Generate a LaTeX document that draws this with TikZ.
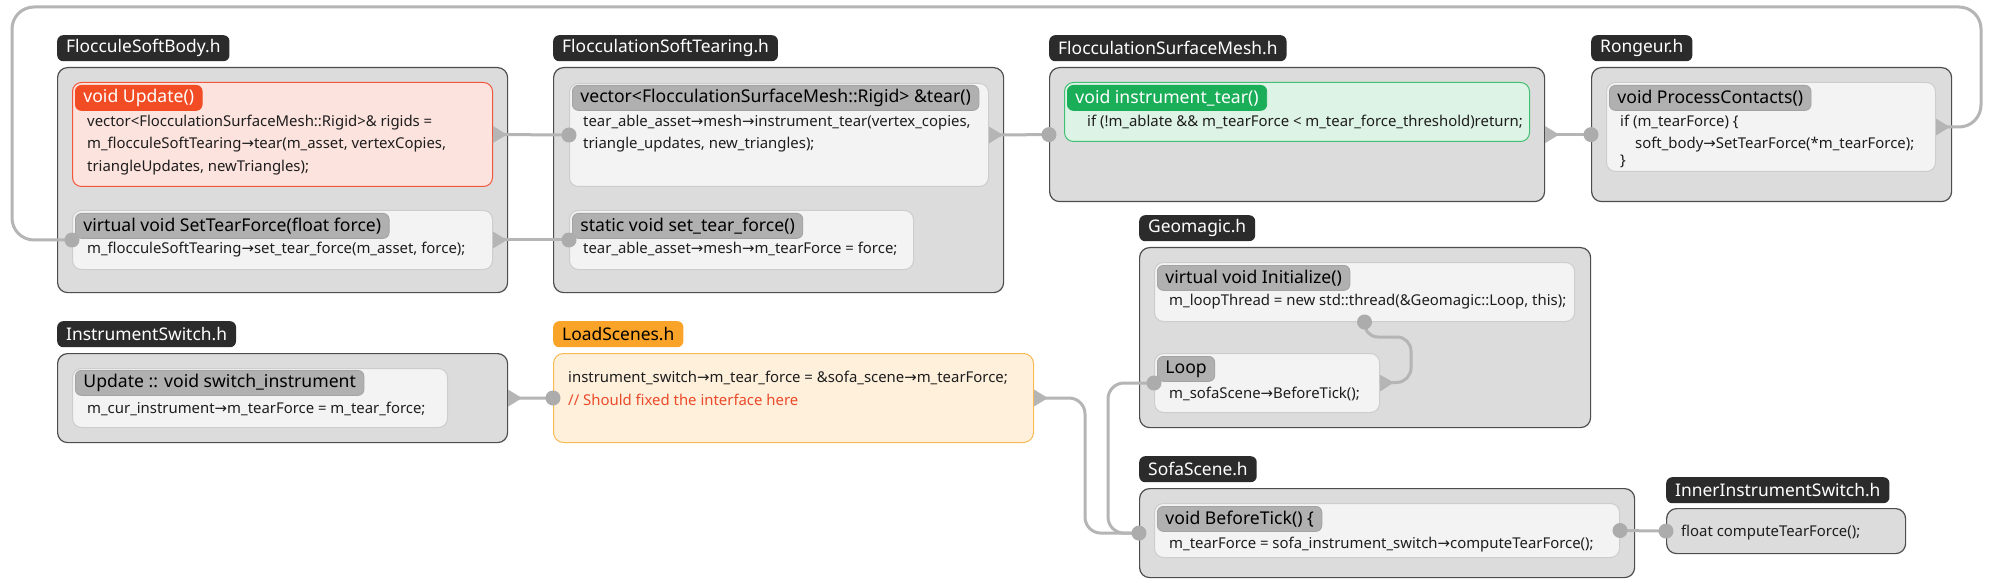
\documentclass[tikz,border=0pt]{standalone}
\usepackage{fontspec}
\setmainfont{Noto Sans}
\newfontfamily\arrowfam{DejaVu Sans}
\usetikzlibrary{arrows.meta}
\newcommand{\myarr}{{\arrowfam\char"2192}}
\definecolor{outerf}{HTML}{DCDCDC}
\definecolor{outerc}{HTML}{4D4D4D}
\definecolor{innerf}{HTML}{F3F3F3}
\definecolor{innerc}{HTML}{CDCDCD}
\definecolor{hdrf}{HTML}{B0B0B0}
\definecolor{hdrc}{HTML}{A3A3A3}
\definecolor{lblf}{HTML}{2B2B2B}
\definecolor{redf}{HTML}{FDE3DE}
\definecolor{redc}{HTML}{F1573A}
\definecolor{redh}{HTML}{F24C24}
\definecolor{grnf}{HTML}{DDF3E5}
\definecolor{grnc}{HTML}{40C074}
\definecolor{grnh}{HTML}{1AAE58}
\definecolor{orgh}{HTML}{F9A428}
\definecolor{orgf}{HTML}{FFF0DC}
\definecolor{orgc}{HTML}{F9B953}
\definecolor{cmt}{HTML}{EB4A2B}
\definecolor{linec}{HTML}{B5B5B5}
\definecolor{textc}{HTML}{1E1E1E}
\tikzset{
  outerbox/.style={draw=outerc, fill=outerf, line width=1.2pt, rounded corners=10pt, anchor=north west, inner sep=0pt},
  innerbox/.style={draw=innerc, fill=innerf, line width=1pt, rounded corners=9pt, anchor=north west, inner sep=0pt},
  hdr/.style={fill=hdrf, draw=hdrc, line width=0.8pt, rounded corners=6pt, anchor=north west, minimum height=25pt, inner xsep=8pt, inner ysep=0pt, font=\fontsize{17.6}{19}\selectfont, text=black},
  lbl/.style={fill=lblf, rounded corners=6pt, anchor=north west, minimum height=26pt, inner xsep=9pt, inner ysep=0pt, font=\fontsize{17.4}{19}\selectfont, text=white},
  code/.style={anchor=base west, inner sep=0pt, font=\fontsize{14.9}{17}\selectfont, text=textc},
  conn/.style={draw=linec, line width=3pt},
  srcl/.style={arrows={{Triangle[reversed,length=14pt,width=16pt]}-}},
  srcr/.style={arrows={-{Triangle[reversed,length=14pt,width=16pt]}}},
  dotc/.style={fill=linec!95!black}
}
\begin{document}
\begin{tikzpicture}[x=1pt,y=-1pt]
\fill[white] (0,0) rectangle (1992,588);
\useasboundingbox (0,0) rectangle (1992,588);

% ---------- outer boxes ----------
\node[outerbox, minimum width=450pt, minimum height=225pt] (fsb) at (57,67) {};
\node[outerbox, minimum width=450pt, minimum height=225pt] (fst) at (553,67) {};
\node[outerbox, minimum width=495pt, minimum height=134pt] (mesh) at (1049,67) {};
\node[outerbox, minimum width=360pt, minimum height=134pt] (rong) at (1591,67) {};
\node[outerbox, minimum width=451pt, minimum height=180pt] (geo) at (1139,247) {};
\node[outerbox, minimum width=450pt, minimum height=89pt] (isw) at (57,353) {};
\node[outerbox, draw=orgc, fill=orgf, line width=1pt, minimum width=480pt, minimum height=89pt] (ls) at (553,353) {};
\node[outerbox, minimum width=495pt, minimum height=89pt] (sofa) at (1139,488) {};
\node[outerbox, minimum width=239pt, minimum height=45pt] (iis) at (1666,508) {};

% ---------- labels ----------
\node[lbl] (lfsb) at (57,35) {FlocculeSoftBody.h};
\node[lbl] (lfst) at (553,35) {FlocculationSoftTearing.h};
\node[lbl] (lmesh) at (1049,35) {FlocculationSurfaceMesh.h};
\node[lbl] (lrong) at (1591,35) {Rongeur.h};
\node[lbl] (lgeo) at (1139,215) {Geomagic.h};
\node[lbl] (lisw) at (57,321) {InstrumentSwitch.h};
\node[lbl, fill=orgh, text=black] (lls) at (553,321) {LoadScenes.h};
\node[lbl] (lsofa) at (1139,456) {SofaScene.h};
\node[lbl] (liis) at (1666,477) {InnerInstrumentSwitch.h};

% ---------- inner boxes ----------
\node[innerbox, draw=redc, fill=redf, minimum width=420pt, minimum height=104pt] (upd) at (72,82) {};
\node[innerbox, minimum width=420pt, minimum height=59pt] (stear) at (72,210) {};
\node[innerbox, minimum width=419pt, minimum height=103pt] (tear) at (569,83) {};
\node[innerbox, minimum width=344pt, minimum height=59pt] (stf) at (569,210) {};
\node[innerbox, draw=grnc, fill=grnf, minimum width=465pt, minimum height=59pt] (itear) at (1064,82) {};
\node[innerbox, minimum width=329pt, minimum height=89pt] (pc) at (1606,82) {};
\node[innerbox, minimum width=420pt, minimum height=59pt] (init) at (1154,262) {};
\node[innerbox, minimum width=225pt, minimum height=59pt] (loop) at (1154,353) {};
\node[innerbox, minimum width=375pt, minimum height=59pt] (isu) at (72,368) {};
\node[innerbox, minimum width=465pt, minimum height=54pt] (bt) at (1154,503) {};

% ---------- headers ----------
\node[hdr, fill=redh, draw=redh, text=white] (hupd) at (75,85) {void Update()};
\node[hdr] (hstear) at (75,213) {virtual void SetTearForce(float force)};
\node[hdr] (htear) at (572,85) {vector<FlocculationSurfaceMesh::Rigid> \&tear()};
\node[hdr] (hstf) at (572,213) {static void set\_tear\_force()};
\node[hdr, fill=grnh, draw=grnh, text=white] (hitear) at (1067,85) {void instrument\_tear()};
\node[hdr] (hpc) at (1609,85) {void ProcessContacts()};
\node[hdr] (hinit) at (1157,265) {virtual void Initialize()};
\node[hdr] (hloop) at (1157,356) {Loop};
\node[hdr] (hisu) at (75,370) {Update :: void switch\_instrument};
\node[hdr] (hbt) at (1157,506) {void BeforeTick() \{};

% ---------- code lines ----------
\node[code] (u1) at (87,127) {vector<FlocculationSurfaceMesh::Rigid>\& rigids =};
\node[code] (u2) at (87,149) {m\_flocculeSoftTearing\myarr tear(m\_asset, vertexCopies,};
\node[code] (u3) at (87,172) {triangleUpdates, newTriangles);};
\node[code] (s1) at (87,254) {m\_flocculeSoftTearing\myarr set\_tear\_force(m\_asset, force);};
\node[code] (t1) at (583,127) {tear\_able\_asset\myarr mesh\myarr instrument\_tear(vertex\_copies,};
\node[code] (t2) at (583,149) {triangle\_updates, new\_triangles);};
\node[code] (f1) at (583,254) {tear\_able\_asset\myarr mesh\myarr m\_tearForce = force;};
\node[code] (m1) at (1087,127) {if (!m\_ablate \&\& m\_tearForce < m\_tear\_force\_threshold)return;};
\node[code] (p1) at (1620,127) {if (m\_tearForce) \{};
\node[code] (p2) at (1635,149) {soft\_body\myarr SetTearForce(*m\_tearForce);};
\node[code] (p3) at (1620,166) {\}};
\node[code] (i1) at (87,413) {m\_cur\_instrument\myarr m\_tearForce = m\_tear\_force;};
\node[code] (l1) at (568,382) {instrument\_switch\myarr m\_tear\_force = \&sofa\_scene\myarr m\_tearForce;};
\node[code, text=cmt] (l2) at (568,405) {// Should fixed the interface here};
\node[code] (g1) at (1169,305) {m\_loopThread = new std::thread(\&Geomagic::Loop, this);};
\node[code] (g2) at (1169,398) {m\_sofaScene\myarr BeforeTick();};
\node[code] (b1) at (1169,548) {m\_tearForce = sofa\_instrument\_switch\myarr computeTearForce();};
\node[code] (n1) at (1681,536) {float computeTearForce();};

% ---------- connector corners ----------
\coordinate (cTR) at (1981,7);
\coordinate (cTL) at (12,7);
\coordinate (cLS) at (1085,460);
\coordinate (cLP) at (1108,460);
\coordinate (cG1) at (1364,337);
\coordinate (cG2) at (1411,337);
\coordinate (cG3) at (1411,382);

% ---------- connectors ----------
\draw[conn, srcl] (upd.east) -- (tear.west);
\draw[conn, srcl] (stear.east) -- (stf.west);
\draw[conn, srcl] (tear.east) -- (mesh.west);
\draw[conn, srcl] (mesh.east) -- (rong.west);
\draw[conn, srcl, rounded corners=22pt] (pc.east) -| (cTR) -- (cTL) |- (stear.west);
\draw[conn, srcl] (isw.east) -- (ls.west);
\draw[conn, srcl, rounded corners=16pt] (ls.east) -| (cLS) |- (sofa.west);
\draw[conn, rounded corners=16pt] (loop.west) -| (cLP) |- (sofa.west);
\draw[conn, srcr, rounded corners=14pt] (init.south) -- (cG1) -- (cG2) -- (cG3) -- (loop.east);
\draw[conn] (bt.east) -- (iis.west);

% ---------- dots ----------
\fill[dotc] (tear.west) circle (7.5pt);
\fill[dotc] (stf.west) circle (7.5pt);
\fill[dotc] (mesh.west) circle (7.5pt);
\fill[dotc] (rong.west) circle (7.5pt);
\fill[dotc] (stear.west) circle (7.5pt);
\fill[dotc] (ls.west) circle (7.5pt);
\fill[dotc] (sofa.west) circle (7.5pt);
\fill[dotc] (loop.west) circle (7.5pt);
\fill[dotc] (init.south) circle (7.5pt);
\fill[dotc] (bt.east) circle (7.5pt);
\fill[dotc] (iis.west) circle (7.5pt);
\end{tikzpicture}
\end{document}
